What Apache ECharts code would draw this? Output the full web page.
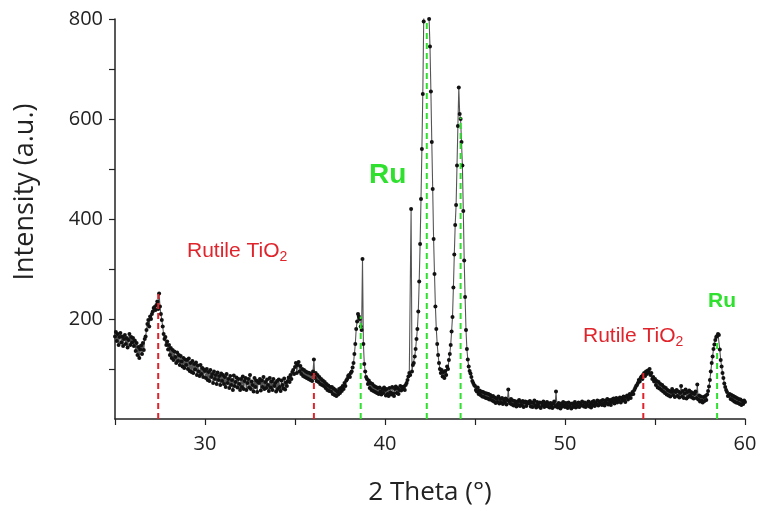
<!DOCTYPE html>
<html>
<head>
<meta charset="utf-8">
<script src="https://cdn.jsdelivr.net/npm/echarts@6/dist/echarts.min.js"></script>
<style>
html,body{margin:0;padding:0;background:#fff;}
#chart{width:761px;height:511px;}
</style>
</head>
<body>
<div id="chart"></div>
<script>
// XRD scan: 2-theta from 25 to 60 deg, step 0.05
const thetaStart = 25;
const thetaStep = 0.05;
const scan25to30 = [
  165,174,156,170,148,164,172,153,165,146,160,168,150,162,143,158,170,148,164,153,
  162,146,157,136,152,128,144,122,139,147,130,152,138,160,165,178,190,198,185,205,
  200,210,215,222,224,218,228,235,220,251,225,210,198,185,170,160,164,148,155,139,
  148,128,142,122,138,118,135,124,112,133,116,128,108,126,115,105,122,102,119,108,
  118,100,121,96,112,94,116,92,110,99,113,88,107,95,86,108,90,102,84,99
];
const scan30to35 = [
  96,82,100,78,94,76,98,84,90,72,95,80,88,70,93,78,86,68,91,76,
  88,70,84,64,90,72,80,62,86,68,78,58,87,66,74,83,63,80,70,58,
  80,64,85,60,76,82,58,72,80,63,88,60,75,68,55,82,64,77,54,74,
  72,80,57,77,64,84,60,74,62,79,68,56,82,63,75,58,80,66,72,55,
  76,60,79,64,56,77,68,61,81,59,73,66,76,83,74,88,80,94,98,90
];
const scan35to40 = [
  104,112,92,108,114,95,106,90,100,86,98,84,95,82,93,80,92,78,90,76,
  95,119,82,92,76,88,74,84,70,80,68,77,66,74,62,70,58,67,56,64,
  55,64,50,61,48,58,46,55,49,60,52,62,56,66,60,72,66,77,80,86,
  88,84,92,95,103,112,130,150,180,195,210,205,200,185,178,320,150,110,95,84,
  80,70,77,62,72,58,70,56,66,54,64,52,62,50,63,55,49,60,52,63
];
const scan40to45 = [
  58,47,60,50,46,62,53,49,64,51,46,60,65,52,62,50,58,66,57,64,
  60,65,58,68,72,78,85,92,88,420,95,108,112,125,140,160,180,215,275,350,
  440,540,650,795,880,950,980,960,900,800,745,655,554,460,360,290,225,180,150,128,
  112,100,92,98,85,94,82,96,88,105,100,118,130,148,175,204,263,329,388,428,
  507,586,663,610,600,554,507,416,317,244,178,140,119,105,96,91,84,76,72,68
];
const scan45to50 = [
  66,58,55,63,50,57,48,55,45,54,44,52,42,51,41,50,39,48,44,37,
  46,35,43,32,41,34,45,31,40,33,42,30,39,33,41,29,38,59,35,31,
  40,29,37,27,36,31,25,35,28,38,26,34,28,36,24,33,35,26,32,34,
  31,36,25,33,24,32,37,27,23,34,29,25,33,22,32,27,35,24,31,26,
  34,25,31,23,32,26,22,31,35,25,55,28,23,32,26,21,31,25,34,27
];
const scan50to55 = [
  24,32,27,22,33,25,30,21,31,24,28,34,23,30,25,33,24,31,27,35,
  28,25,33,24,31,27,35,25,31,23,34,28,36,26,32,29,37,27,35,30,
  36,28,38,31,27,37,32,40,29,38,33,28,39,34,41,31,37,42,33,40,
  38,43,33,42,37,45,38,34,44,47,39,46,50,42,49,54,50,58,62,66,
  68,72,78,75,82,85,80,89,92,86,95,90,97,93,100,88,92,80,84,75
];
const scan55to60 = [
  80,68,76,63,74,61,70,58,68,55,64,52,62,49,58,47,56,45,54,60,
  48,56,44,54,58,46,55,43,52,66,45,56,42,51,59,41,54,44,57,47,
  54,43,52,41,50,55,42,69,39,47,35,45,37,33,44,36,46,38,49,56,
  65,78,95,112,125,140,149,158,164,166,170,168,139,118,105,92,82,71,64,58,
  54,46,47,50,40,48,38,46,35,44,33,42,32,40,30,39,28,36,30,37,
  34
];

// reference peak positions (2-theta) and the heights of their dashed markers
const rutilePos = [27.4, 36.05, 54.35];
const rutileTop = [250, 97, 92];
const ruPos = [38.65, 42.32, 44.2, 58.45];
const ruTop = [205, 800, 603, 160];

const xTicks = [30, 40, 50, 60];
const yTicks = [200, 400, 600, 800];

const intensity = [].concat(scan25to30, scan30to35, scan35to40, scan40to45, scan45to50, scan50to55, scan55to60);
const scanData = intensity.map((v, i) => [+(thetaStart + i * thetaStep).toFixed(2), v]);

const RED = '#e0242c';
const GREEN = '#2fe02f';

function dropLines(pos, top, color) {
  return pos.map((p, i) => ({
    type: 'line',
    data: [[p, 0], [p, top[i]]],
    symbol: 'none',
    silent: true,
    z: 5,
    lineStyle: { color: color, width: 2, type: [6, 4] },
    animation: false
  }));
}

const chart = echarts.init(document.getElementById('chart'), null, { renderer: 'canvas' });
const axisFont = 'Open Sans';
const subRich = {
  a: { fontFamily: 'Liberation Sans', fontSize: 21, lineHeight: 26, fill: RED, color: RED },
  s: { fontFamily: 'Liberation Sans', fontSize: 14, lineHeight: 10, verticalAlign: 'bottom', fill: RED, color: RED }
};
chart.setOption({
  backgroundColor: '#fff',
  animation: false,
  grid: { left: 115, right: 16, top: 19, bottom: 89 },
  xAxis: {
    type: 'value', min: 25, max: 60, interval: 5,
    name: '2 Theta (°)', nameLocation: 'middle', nameGap: 61,
    nameTextStyle: { fontFamily: axisFont, fontSize: 26, color: '#222' },
    axisLine: { show: true, onZero: false, lineStyle: { color: '#222', width: 1.5 } },
    axisTick: { show: true, inside: false, length: 6, lineStyle: { color: '#222', width: 1.2 } },
    axisLabel: {
      margin: 15, fontFamily: axisFont, fontSize: 20, color: '#222',
      formatter: v => (xTicks.indexOf(v) >= 0 ? String(v) : '')
    },
    splitLine: { show: false }
  },
  yAxis: {
    type: 'value', min: 0, max: 800, interval: 100,
    axisLine: { show: true, lineStyle: { color: '#222', width: 1.5 } },
    axisTick: { show: true, inside: false, length: 6, lineStyle: { color: '#222', width: 1.2 },
      customValues: [100, 200, 300, 400, 500, 600, 700, 800] },
    axisLabel: {
      margin: 12, fontFamily: axisFont, fontSize: 20, color: '#222',
      formatter: v => (yTicks.indexOf(v) >= 0 ? String(v) : '')
    },
    splitLine: { show: false }
  },
  series: [
    {
      type: 'line',
      data: scanData,
      symbol: 'circle',
      symbolSize: 4,
      showSymbol: true,
      showAllSymbol: true,
      clip: true,
      z: 3,
      itemStyle: { color: '#111' },
      lineStyle: { color: '#555', width: 1.1 }
    }
  ].concat(dropLines(rutilePos, rutileTop, RED), dropLines(ruPos, ruTop, GREEN)),
  graphic: [
    {
      type: 'text', x: 25, y: 192, rotation: Math.PI / 2,
      style: { text: 'Intensity (a.u.)', fontFamily: axisFont, fontSize: 27, fill: '#222', align: 'center', verticalAlign: 'middle' }
    },
    {
      type: 'text', left: 187, top: 241,
      style: { text: '{a|Rutile TiO}{s|2}', rich: subRich }
    },
    {
      type: 'text', left: 583, top: 326,
      style: { text: '{a|Rutile TiO}{s|2}', rich: subRich }
    },
    {
      type: 'text', left: 369, top: 161,
      style: { text: 'Ru', fontFamily: 'Liberation Sans', fontWeight: 'bold', fontSize: 28, fill: GREEN }
    },
    {
      type: 'text', left: 708, top: 291,
      style: { text: 'Ru', fontFamily: 'Liberation Sans', fontWeight: 'bold', fontSize: 21, fill: GREEN }
    }
  ]
});
</script>
</body>
</html>
